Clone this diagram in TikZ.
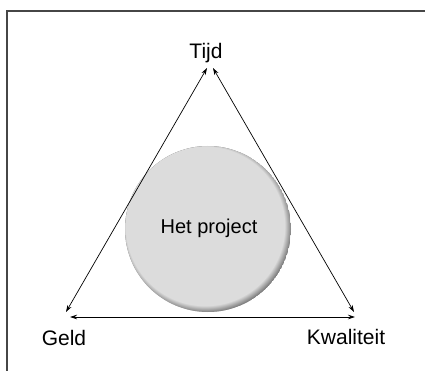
\documentclass[tikz,border=0pt]{standalone}
\usepackage{fontspec}
\setmainfont{Liberation Sans}
\usepackage{xcolor}
\usetikzlibrary{arrows.meta,fadings,positioning}
\definecolor{ballgray}{RGB}{220,220,220}
\definecolor{rimgray}{RGB}{95,95,95}
\definecolor{framegray}{RGB}{70,70,70}

\begin{document}
\begin{tikzpicture}[x=1pt,y=-1pt,
    cornertext/.style={font=\fontsize{21}{25}\selectfont},
    discname/.style={font=\fontsize{20}{24}\selectfont},
    link/.style={{Stealth[length=7pt,width=4.5pt]}-{Stealth[length=7pt,width=4.5pt]},line width=0.7pt}]
    \useasboundingbox (0,0) rectangle (425,371);
    % frame
    \draw[framegray,line width=1.6pt] (7,371) -- (7,11) -- (425,11);
    % the project: grey disc with a soft dark rim at the lower right
    \begin{scope}
        \clip (208,229) circle (83);
        \fill[rimgray] (208,229) circle (83);
        \fill[ballgray,path fading=circle with fuzzy edge 10 percent] (205,226) circle (88);
    \end{scope}
    \node[circle,minimum size=166pt,discname] (project) at (209,228) {Het project};
    % corners
    \node[cornertext] (tijd) at (206,53) {Tijd};
    \node[cornertext] (geld) at (64,338) {Geld};
    \node[cornertext] (kwaliteit) at (346,337) {Kwaliteit};
    \coordinate (topL) at (207,68);
    \coordinate (topR) at (213,68);
    \coordinate (botL) at (66,312);
    \coordinate (botR) at (354,312);
    \coordinate (baseL) at (70,317);
    \coordinate (baseR) at (355,317);
    \draw[link] (topL) -- (botL);
    \draw[link] (topR) -- (botR);
    \draw[link] (baseL) -- (baseR);
\end{tikzpicture}
\end{document}
